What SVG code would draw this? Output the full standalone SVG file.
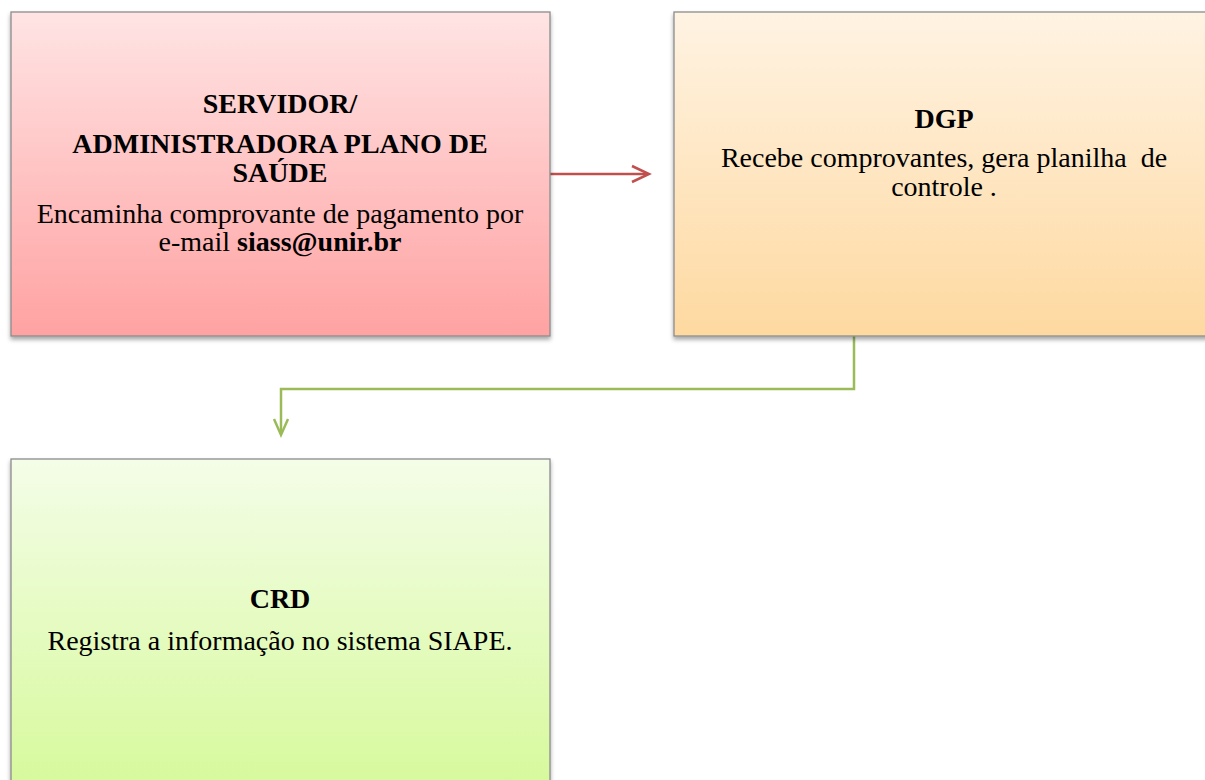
<svg xmlns="http://www.w3.org/2000/svg" width="1205" height="780" viewBox="0 0 1205 780">
  <defs>
    <linearGradient id="gRed" x1="0" y1="0" x2="0" y2="1">
      <stop offset="0" stop-color="#FFE4E4"/>
      <stop offset="1" stop-color="#FFA2A2"/>
    </linearGradient>
    <linearGradient id="gOrange" x1="0" y1="0" x2="0" y2="1">
      <stop offset="0" stop-color="#FFF3E3"/>
      <stop offset="1" stop-color="#FED9A0"/>
    </linearGradient>
    <linearGradient id="gGreen" x1="0" y1="0" x2="0" y2="1">
      <stop offset="0" stop-color="#F4FDE8"/>
      <stop offset="1" stop-color="#D6F99A"/>
    </linearGradient>
    <filter id="shadow" x="-5%" y="-5%" width="110%" height="115%">
      <feDropShadow dx="0" dy="3" stdDeviation="2" flood-color="#000" flood-opacity="0.35"/>
    </filter>
  </defs>
  <style>
    .box { stroke: #8C8C8C; stroke-width: 1.3; filter: url(#shadow); }
    text { font-family: "Liberation Serif", "Times New Roman", serif; font-size: 28px; fill: #000; text-anchor: middle; }
    .b { font-weight: bold; }
    .red { stroke: #C0504D; stroke-width: 2.5; fill: none; }
    .green { stroke: #9BBB59; stroke-width: 2.5; fill: none; }
  </style>

  <rect width="1205" height="780" fill="#FFFFFF"/>

  <!-- Connectors -->
  <g id="connectors">
    <path class="red" d="M550 174 H648"/>
    <path class="red" d="M632 166 L649 174 L632 182"/>
    <path class="green" d="M854 336 V389 H281 V433"/>
    <path class="green" d="M274 419 L281 435 L288 419"/>
  </g>

  <!-- Servidor / administradora -->
  <g id="node-servidor">
    <rect class="box" x="11" y="12" width="539" height="324" fill="url(#gRed)"/>
    <text class="b" x="280" y="113">SERVIDOR/</text>
    <text class="b" x="280" y="153">ADMINISTRADORA PLANO DE</text>
    <text class="b" x="280" y="182">SAÚDE</text>
    <text x="280" y="223">Encaminha comprovante de pagamento por</text>
    <text x="280" y="251">e-mail <tspan class="b">siass@unir.br</tspan></text>
  </g>

  <!-- DGP -->
  <g id="node-dgp">
    <rect class="box" x="674" y="12" width="540" height="324" fill="url(#gOrange)"/>
    <text class="b" x="944" y="128">DGP</text>
    <text x="944" y="167" xml:space="preserve">Recebe comprovantes, gera planilha  de</text>
    <text x="944" y="196">controle .</text>
  </g>

  <!-- CRD -->
  <g id="node-crd">
    <rect class="box" x="11" y="459" width="539" height="335" fill="url(#gGreen)"/>
    <text class="b" x="280" y="608">CRD</text>
    <text x="280" y="650">Registra a informação no sistema SIAPE.</text>
  </g>
</svg>
